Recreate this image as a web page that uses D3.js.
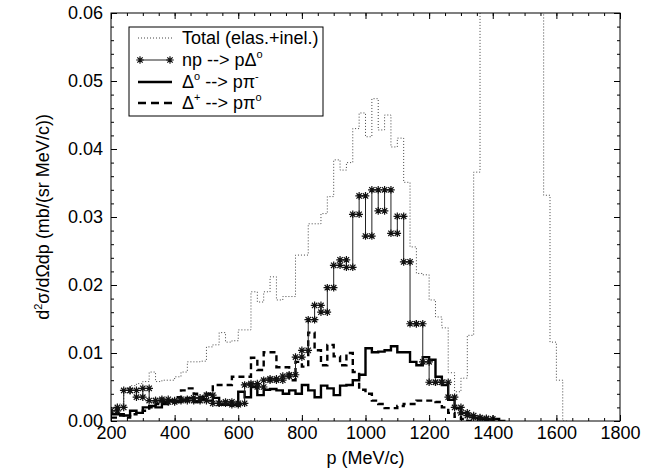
<!DOCTYPE html>
<html>
<head>
<meta charset="utf-8">
<script src="https://cdn.jsdelivr.net/npm/d3@7"></script>
<style>
  body { margin: 0; background: #fff; }
  svg text { font-family: "Liberation Sans", Arial, Helvetica, sans-serif; fill: #000; }
</style>
</head>
<body>
<svg id="chart" width="656" height="471"></svg>
<script>
// Momentum histograms, 20 MeV/c bins starting at 200 MeV/c
const binStart = 200;
const binWidth = 20;

// Total (elastic + inelastic) cross section per bin
const totalValues = [
  0.0020, 0.0025, 0.0048, 0.0052, 0.0055, 0.0058, 0.0072, 0.0058, 0.0060, 0.0060,
  0.0065, 0.0072, 0.0087, 0.0087, 0.0088, 0.0109, 0.0112, 0.0130, 0.0116, 0.0118,
  0.0134, 0.0134, 0.0190, 0.0175, 0.0190, 0.0212, 0.0178, 0.0183, 0.0183, 0.0244,
  0.0244, 0.0290, 0.0290, 0.0305, 0.0330, 0.0384, 0.0369, 0.0380, 0.0430, 0.0453,
  0.0418, 0.0474, 0.0428, 0.0450, 0.0403, 0.0416, 0.0351, 0.0256, 0.0217, 0.0215,
  0.0178, 0.0153, 0.0137, 0.0071, 0.0043, 0.0063, 0.0126, 0.0366, 0.0750, 0.0900,
  0.1000, 0.1100, 0.1200, 0.1200, 0.1100, 0.1000, 0.0900, 0.0750, 0.0332, 0.0116,
  0.0060, 0.0000
];

// np --> p Delta0
const npDeltaValues = [
  0.0015, 0.0020, 0.0045, 0.0045, 0.0035, 0.0048, 0.0030, 0.0030, 0.0032, 0.0028,
  0.0030, 0.0032, 0.0030, 0.0034, 0.0030, 0.0038, 0.0026, 0.0026, 0.0028, 0.0024,
  0.0026, 0.0053, 0.0055, 0.0050, 0.0060, 0.0062, 0.0060, 0.0066, 0.0068, 0.0094,
  0.0104, 0.0149, 0.0170, 0.0160, 0.0196, 0.0229, 0.0237, 0.0226, 0.0304, 0.0331,
  0.0272, 0.0340, 0.0309, 0.0340, 0.0276, 0.0301, 0.0234, 0.0143, 0.0143, 0.0087,
  0.0057, 0.0057, 0.0057, 0.0035, 0.0020, 0.0012, 0.0008, 0.0005, 0.0004, 0.0003
];

// Delta0 --> p pi-
const delta0Values = [
  0.0010, 0.0010, 0.0008, 0.0015, 0.0012, 0.0020, 0.0022, 0.0020, 0.0025, 0.0030,
  0.0028, 0.0030, 0.0034, 0.0028, 0.0032, 0.0030, 0.0034, 0.0024, 0.0024, 0.0024,
  0.0043, 0.0035, 0.0050, 0.0038, 0.0046, 0.0047, 0.0045, 0.0040, 0.0045, 0.0040,
  0.0053, 0.0045, 0.0035, 0.0052, 0.0048, 0.0038, 0.0052, 0.0053, 0.0060, 0.0068,
  0.0107, 0.0101, 0.0102, 0.0104, 0.0110, 0.0101, 0.0101, 0.0087, 0.0082, 0.0094,
  0.0090, 0.0065, 0.0053, 0.0031, 0.0019, 0.0012, 0.0008, 0.0005, 0.0003, 0.0002,
  0.0003, 0.0000
];

// Delta+ --> p pi0
const deltaPlusValues = [
  0.0005, 0.0008, 0.0005, 0.0010, 0.0012, 0.0015, 0.0020, 0.0025, 0.0028, 0.0030,
  0.0035, 0.0045, 0.0048, 0.0040, 0.0035, 0.0040, 0.0053, 0.0053, 0.0053, 0.0065,
  0.0065, 0.0065, 0.0093, 0.0075, 0.0101, 0.0101, 0.0079, 0.0079, 0.0060, 0.0087,
  0.0080, 0.0130, 0.0104, 0.0082, 0.0112, 0.0095, 0.0082, 0.0100, 0.0072, 0.0046,
  0.0040, 0.0030, 0.0025, 0.0019, 0.0019, 0.0022, 0.0025, 0.0025, 0.0030, 0.0030,
  0.0030, 0.0028, 0.0020, 0.0012, 0.0006, 0.0003, 0.0000
];

// Axis ticks
const xMajorTicks = [200, 400, 600, 800, 1000, 1200, 1400, 1600, 1800];
const yMajorTicks = [0.00, 0.01, 0.02, 0.03, 0.04, 0.05, 0.06];

const svg = d3.select("#chart");
const margin = { left: 111, right: 36, top: 13, bottom: 50 };
const W = 656, H = 471;
const x = d3.scaleLinear().domain([200, 1800]).range([margin.left, W - margin.right]);
const y = d3.scaleLinear().domain([0, 0.06]).range([H - margin.bottom, margin.top]);

svg.append("defs").append("clipPath").attr("id", "plotArea")
  .append("rect")
  .attr("x", x(200)).attr("y", y(0.06))
  .attr("width", x(1800) - x(200)).attr("height", y(0) - y(0.06));

// Histogram outline vertices: two per bin (left and right edge)
function stepPoints(values) {
  const pts = [];
  values.forEach((v, i) => {
    const lo = binStart + i * binWidth;
    pts.push([lo, v], [lo + binWidth, v]);
  });
  return pts;
}

const line = d3.line().x(d => x(d[0])).y(d => y(d[1]));
const plot = svg.append("g").attr("clip-path", "url(#plotArea)");

// Total: thin dotted
plot.append("path")
  .attr("d", line(stepPoints(totalValues)))
  .attr("fill", "none").attr("stroke", "#444").attr("stroke-width", 1)
  .attr("stroke-dasharray", "1,2");

// Delta+: thick dashed
plot.append("path")
  .attr("d", line(stepPoints(deltaPlusValues)))
  .attr("fill", "none").attr("stroke", "#000").attr("stroke-width", 2.4)
  .attr("stroke-dasharray", "6,4");

// Delta0: thick solid
plot.append("path")
  .attr("d", line(stepPoints(delta0Values)))
  .attr("fill", "none").attr("stroke", "#000").attr("stroke-width", 2.4);

// np --> p Delta0: thin line with asterisk markers at each vertex
const npPts = stepPoints(npDeltaValues);
plot.append("path")
  .attr("d", line(npPts))
  .attr("fill", "none").attr("stroke", "#222").attr("stroke-width", 1);

const r = 3.8;
const starPath = (() => {
  const p = d3.path();
  for (let k = 0; k < 4; k++) {
    const a = k * Math.PI / 4;
    p.moveTo(-r * Math.cos(a), -r * Math.sin(a));
    p.lineTo(r * Math.cos(a), r * Math.sin(a));
  }
  return p.toString();
})();

plot.append("g").selectAll("path").data(npPts).join("path")
  .attr("transform", d => `translate(${x(d[0])},${y(d[1])})`)
  .attr("d", starPath)
  .attr("fill", "none").attr("stroke", "#111").attr("stroke-width", 1.2);

// Frame
svg.append("rect")
  .attr("x", x(200)).attr("y", y(0.06))
  .attr("width", x(1800) - x(200)).attr("height", y(0) - y(0.06))
  .attr("fill", "none").attr("stroke", "#000").attr("stroke-width", 1);

// Axes with inward ticks
const fontSize = 18;
const xMinor = d3.range(200, 1801, 50);
const yMinor = d3.range(0, 0.0601, 0.002);

function styleAxis(g) {
  g.select(".domain").remove();
  g.selectAll("line").attr("stroke", "#000");
  g.selectAll("text").attr("font-size", fontSize).attr("fill", "#000")
    .attr("font-family", "Liberation Sans, Arial, sans-serif");
}

svg.append("g").attr("transform", `translate(0,${y(0)})`)
  .call(d3.axisBottom(x).tickValues(xMajorTicks).tickFormat(d3.format("d"))
    .tickSizeInner(-6).tickSizeOuter(0).tickPadding(5))
  .call(styleAxis);
svg.append("g").attr("transform", `translate(0,${y(0)})`)
  .call(d3.axisBottom(x).tickValues(xMinor).tickFormat(() => null).tickSizeInner(-3).tickSizeOuter(0))
  .call(styleAxis);
svg.append("g").attr("transform", `translate(0,${y(0.06)})`)
  .call(d3.axisTop(x).tickValues(xMajorTicks).tickFormat(() => null).tickSizeInner(-6).tickSizeOuter(0))
  .call(styleAxis);
svg.append("g").attr("transform", `translate(0,${y(0.06)})`)
  .call(d3.axisTop(x).tickValues(xMinor).tickFormat(() => null).tickSizeInner(-3).tickSizeOuter(0))
  .call(styleAxis);

svg.append("g").attr("transform", `translate(${x(200)},0)`)
  .call(d3.axisLeft(y).tickValues(yMajorTicks).tickFormat(d3.format(".2f"))
    .tickSizeInner(-6).tickSizeOuter(0).tickPadding(8))
  .call(styleAxis);
svg.append("g").attr("transform", `translate(${x(200)},0)`)
  .call(d3.axisLeft(y).tickValues(yMinor).tickFormat(() => null).tickSizeInner(-3).tickSizeOuter(0))
  .call(styleAxis);
svg.append("g").attr("transform", `translate(${x(1800)},0)`)
  .call(d3.axisRight(y).tickValues(yMajorTicks).tickFormat(() => null).tickSizeInner(-6).tickSizeOuter(0))
  .call(styleAxis);
svg.append("g").attr("transform", `translate(${x(1800)},0)`)
  .call(d3.axisRight(y).tickValues(yMinor).tickFormat(() => null).tickSizeInner(-3).tickSizeOuter(0))
  .call(styleAxis);

// Unlabelled axis groups keep empty text nodes; drop them
svg.selectAll(".tick text").filter(function () { return !this.textContent; }).remove();

// Axis titles
svg.append("text")
  .attr("x", (x(200) + x(1800)) / 2).attr("y", 464)
  .attr("text-anchor", "middle").attr("font-size", fontSize)
  .text("p (MeV/c)");

const yTitle = svg.append("text")
  .attr("transform", `translate(49,${(y(0) + y(0.06)) / 2}) rotate(-90)`)
  .attr("text-anchor", "middle").attr("font-size", fontSize);
yTitle.append("tspan").text("d");
yTitle.append("tspan").attr("font-size", 11).attr("dy", -7).text("2");
yTitle.append("tspan").attr("dy", 7).text("σ/dΩdp (mb/(sr MeV/c))");

// Legend
const legend = svg.append("g");
legend.append("rect")
  .attr("x", 129).attr("y", 27).attr("width", 194).attr("height", 89)
  .attr("fill", "#fff").attr("stroke", "#000").attr("stroke-width", 1);

const lx0 = 138, lx1 = 172, tx = 182;
const rowY = [38, 60, 82, 103];

legend.append("line").attr("x1", lx0).attr("x2", lx1).attr("y1", rowY[0]).attr("y2", rowY[0])
  .attr("stroke", "#444").attr("stroke-dasharray", "1,2");
legend.append("line").attr("x1", lx0 + 2).attr("x2", lx1 - 2).attr("y1", rowY[1]).attr("y2", rowY[1])
  .attr("stroke", "#222");
[lx0 + 2, lx1 - 2].forEach(px => legend.append("path")
  .attr("transform", `translate(${px},${rowY[1]})`).attr("d", starPath)
  .attr("fill", "none").attr("stroke", "#111").attr("stroke-width", 1.2));
legend.append("line").attr("x1", lx0).attr("x2", lx1).attr("y1", rowY[2]).attr("y2", rowY[2])
  .attr("stroke", "#000").attr("stroke-width", 2.4);
legend.append("line").attr("x1", lx0).attr("x2", lx1).attr("y1", rowY[3]).attr("y2", rowY[3])
  .attr("stroke", "#000").attr("stroke-width", 2.4).attr("stroke-dasharray", "8,5");

// Legend labels; superscripts are raised tspans, the next run drops back to the baseline
function legendText(i, parts) {
  const t = legend.append("text").attr("x", tx).attr("y", rowY[i] + 6).attr("font-size", fontSize);
  let raised = false;
  parts.forEach(([s, sup]) => {
    const span = t.append("tspan").text(s);
    if (sup) {
      span.attr("font-size", 11).attr("dy", -8);
      raised = true;
    } else if (raised) {
      span.attr("dy", 8);
      raised = false;
    }
  });
}
legendText(0, [["Total (elas.+inel.)"]]);
legendText(1, [["np --> pΔ"], ["o", true]]);
legendText(2, [["Δ"], ["o", true], [" --> pπ"], ["-", true]]);
legendText(3, [["Δ"], ["+", true], [" --> pπ"], ["o", true]]);
</script>
</body>
</html>
